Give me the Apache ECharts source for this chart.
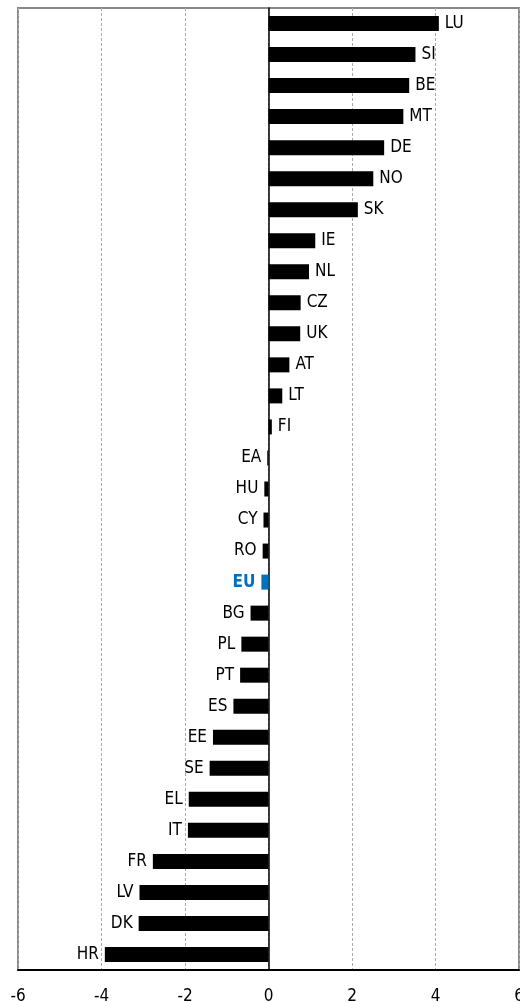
<!DOCTYPE html>
<html>
<head>
<meta charset="utf-8">
<script src="https://cdn.jsdelivr.net/npm/echarts@6/dist/echarts.min.js"></script>
<style>
html,body{margin:0;padding:0;background:#fff;}
#chart{width:520px;height:1002px;}
</style>
</head>
<body>
<div id="chart"></div>
<script>
var categories = ['LU','SI','BE','MT','DE','NO','SK','IE','NL','CZ','UK','AT','LT','FI','EA','HU','CY','RO','EU','BG','PL','PT','ES','EE','SE','EL','IT','FR','LV','DK','HR'];
var values = [4.08,3.52,3.37,3.23,2.77,2.51,2.14,1.12,0.97,0.77,0.76,0.50,0.33,0.08,-0.03,-0.10,-0.12,-0.14,-0.17,-0.43,-0.65,-0.68,-0.84,-1.33,-1.41,-1.91,-1.93,-2.77,-3.09,-3.11,-3.92];
var highlight = 'EU';
var xTicks = [-6,-4,-2,0,2,4,6];

var FONT = "'Liberation Sans Narrow','DejaVu Sans Condensed','Liberation Sans',sans-serif";
var BLUE = '#0070C0';

var data = categories.map(function(c, i){
  var v = values[i];
  var isH = c === highlight;
  return {
    value: v,
    itemStyle: {color: isH ? BLUE : '#000'},
    label: {
      show: true,
      position: v >= 0 ? 'right' : 'left',
      distance: 6,
      formatter: c,
      color: isH ? BLUE : '#000',
      fontWeight: isH ? 'bold' : 'normal',
      fontFamily: FONT,
      fontSize: 17
    }
  };
});

var chart = echarts.init(document.getElementById('chart'), null, {renderer:'canvas'});
chart.setOption({
  animation: false,
  grid: {left: 18, right: 1, top: 8, bottom: 32, show: true, borderColor: '#888', borderWidth: 2,
    containLabel: false, outerBoundsMode: 'none'},
  xAxis: {
    type: 'value', min: -6, max: 6, interval: 2,
    axisLine: {show: true, onZero: false, lineStyle: {color: '#000', width: 2}},
    axisTick: {show: false},
    axisLabel: {color: '#000', fontFamily: FONT, fontSize: 17, margin: 18,
      formatter: function(v){ return xTicks.indexOf(v) >= 0 ? String(v) : ''; }},
    splitLine: {show: true, lineStyle: {color: '#aaa', type: [3,2], width: 1}}
  },
  yAxis: {
    type: 'category', data: categories, inverse: true,
    axisLine: {show: true, onZero: true, lineStyle: {color: '#000', width: 1.5}},
    axisTick: {show: false},
    axisLabel: {show: false},
    splitLine: {show: false}
  },
  series: [{
    type: 'bar',
    data: data,
    barWidth: 15,
    z: 3
  }]
});
</script>
</body>
</html>
